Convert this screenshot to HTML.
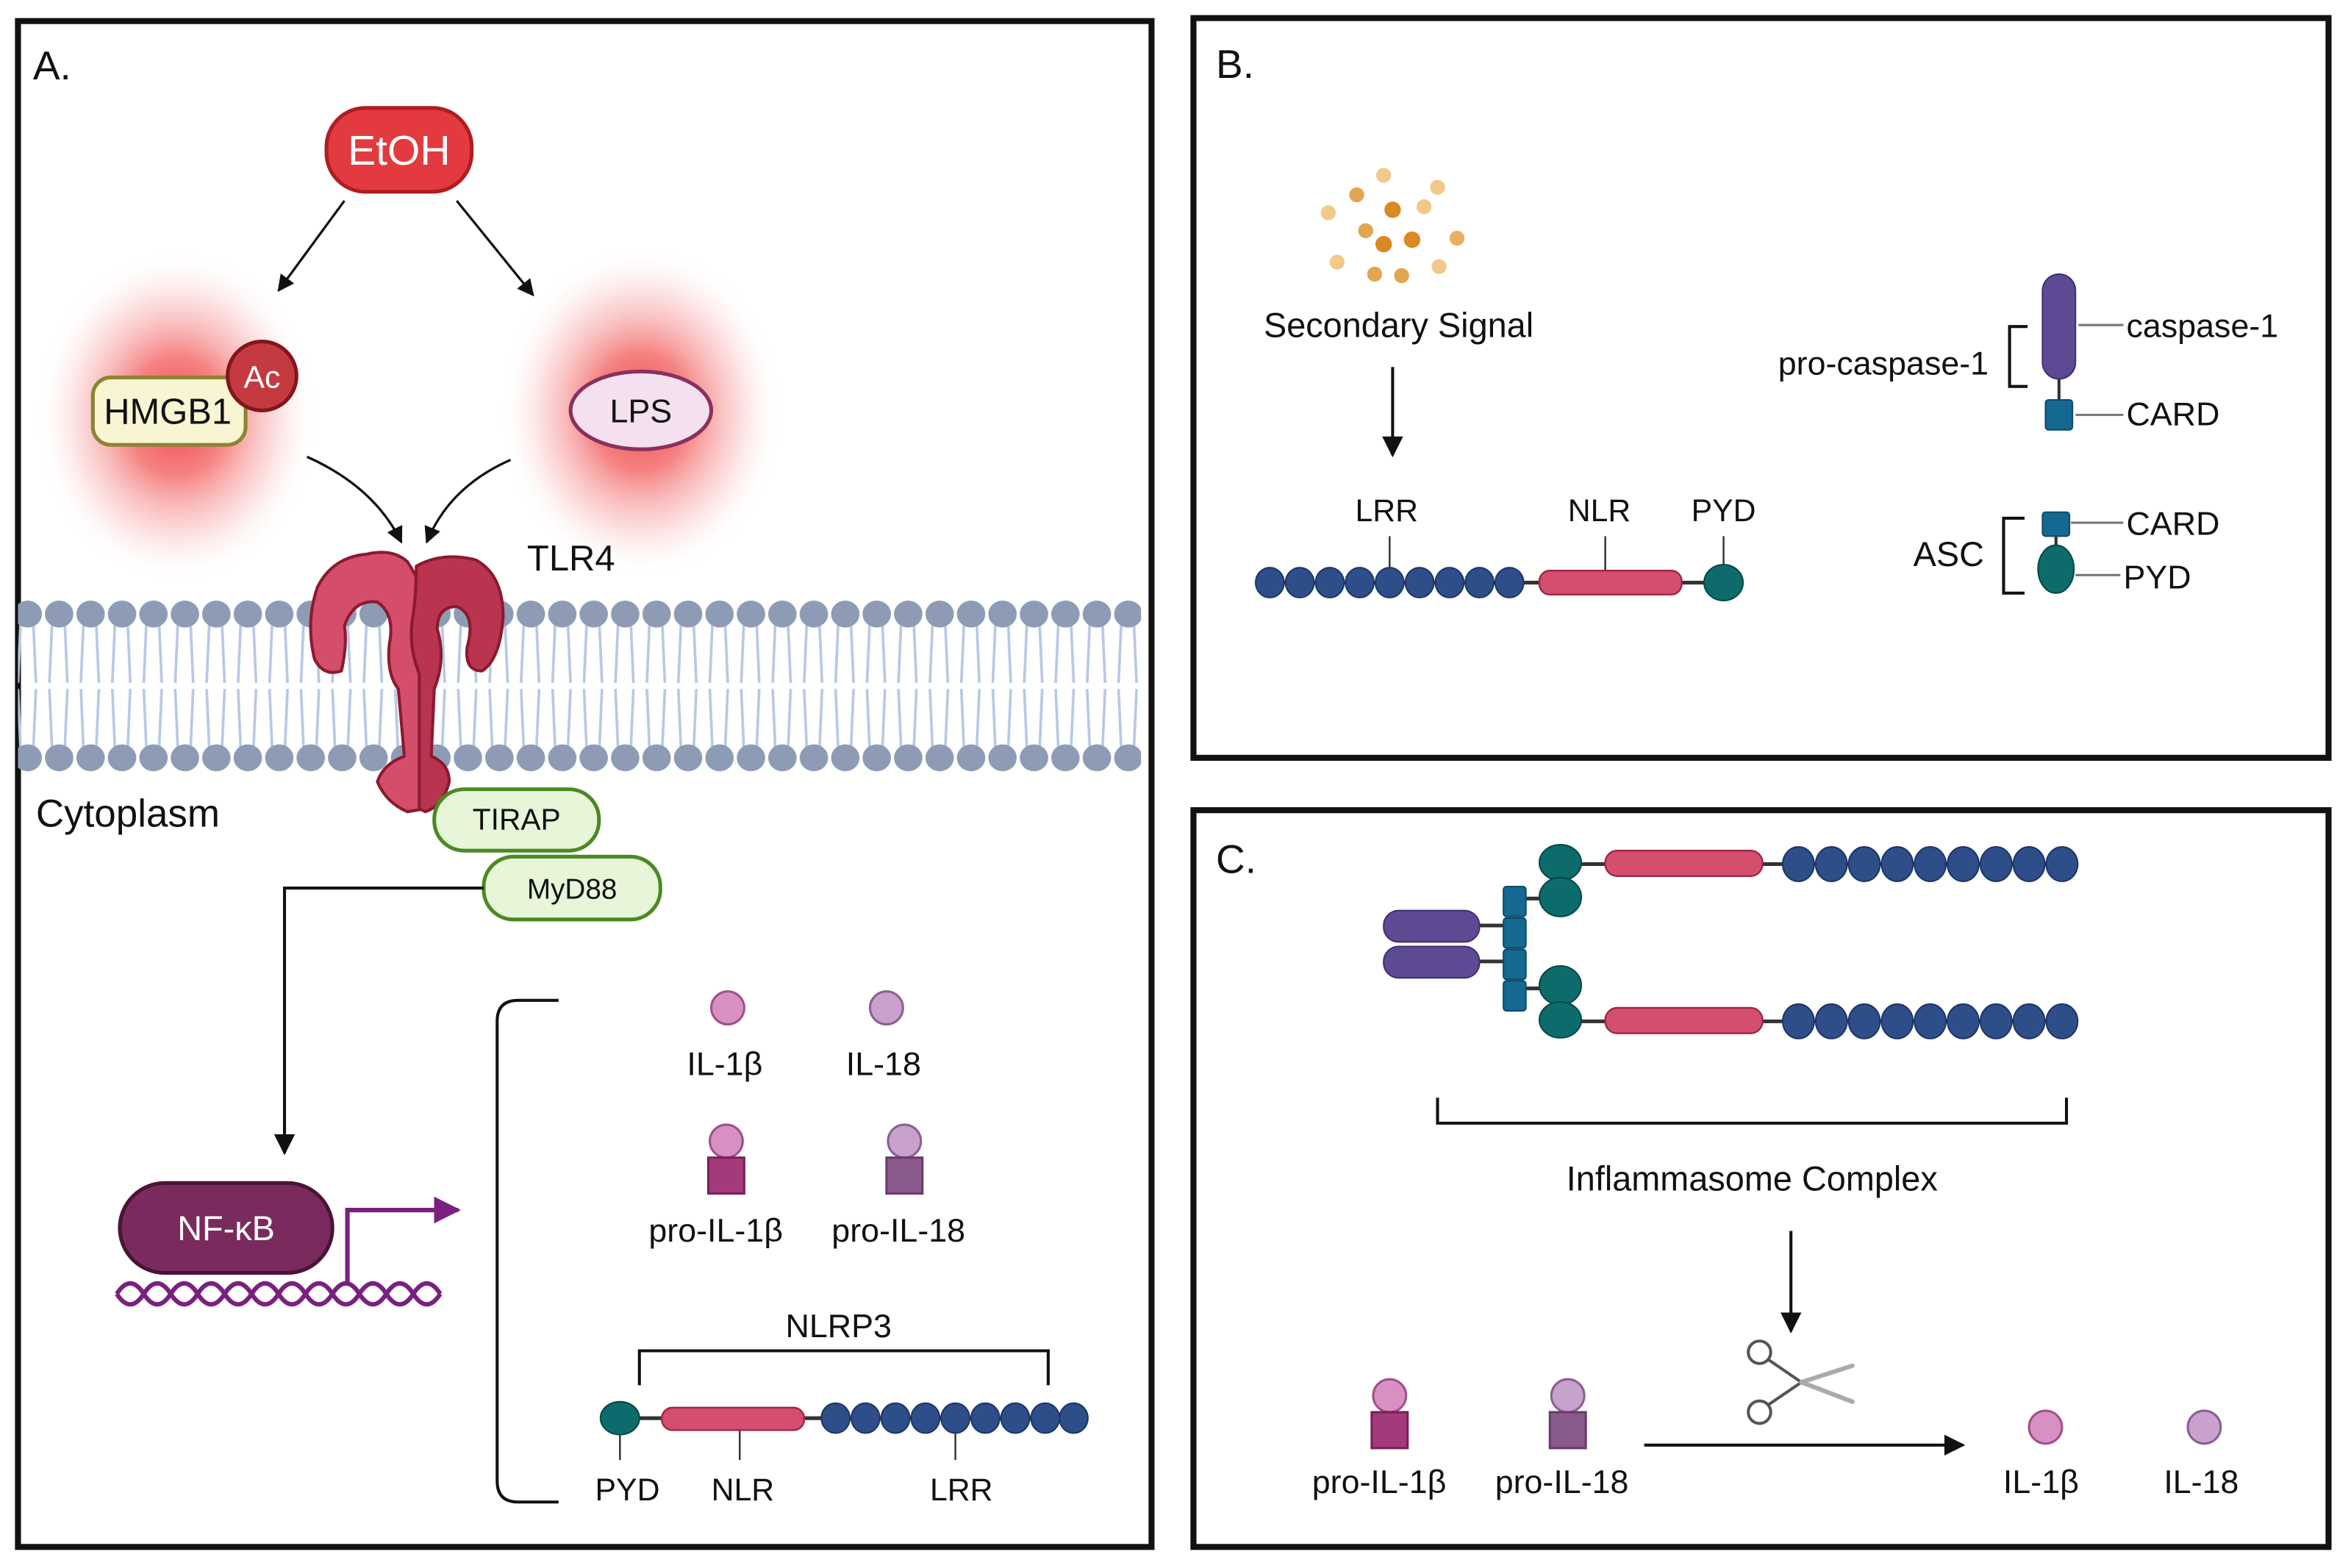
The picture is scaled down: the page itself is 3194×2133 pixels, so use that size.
<!DOCTYPE html>
<html><head><meta charset="utf-8"><style>
html,body{margin:0;padding:0;background:#fff;}
svg{display:block;}
text{font-family:"Liberation Sans",sans-serif;fill:#111;}
</style></head><body>
<svg width="3194" height="2133" viewBox="0 0 1568 1047" xmlns="http://www.w3.org/2000/svg">
<defs>
<radialGradient id="glow" cx="50%" cy="50%" r="50%">
<stop offset="0" stop-color="#f03a3a" stop-opacity="0.95"/>
<stop offset="0.35" stop-color="#f25858" stop-opacity="0.75"/>
<stop offset="0.7" stop-color="#f7a0a0" stop-opacity="0.35"/>
<stop offset="1" stop-color="#ffffff" stop-opacity="0"/>
</radialGradient>
<pattern id="mem" x="8" y="398" width="21" height="120" patternUnits="userSpaceOnUse">
<g stroke="#b8c8e6" stroke-width="1.8" fill="none">
<path d="M6,12 L4,58 M14,12 L16,58 M4,62 L6,108 M16,62 L14,108"/>
</g>
<ellipse cx="10.5" cy="12" rx="9.5" ry="9" fill="#8d9cb4"/>
<ellipse cx="10.5" cy="108" rx="9.5" ry="9" fill="#8d9cb4"/>
</pattern>
<marker id="ah" viewBox="0 0 10 10" refX="9" refY="5" markerWidth="7" markerHeight="7" orient="auto-start-reverse"><path d="M0,0 L10,5 L0,10 z" fill="#111"/></marker>
<marker id="ahp" viewBox="0 0 10 10" refX="9" refY="5" markerWidth="6" markerHeight="6" orient="auto"><path d="M0,0 L10,5 L0,10 z" fill="#7a2080"/></marker>
</defs>

<rect x="12" y="14" width="757" height="1019" fill="none" stroke="#111" stroke-width="4"/>
<rect x="797" y="12" width="758" height="494" fill="none" stroke="#111" stroke-width="4"/>
<rect x="797" y="541" width="758" height="492" fill="none" stroke="#111" stroke-width="4"/>

<!-- ===== Panel A ===== -->
<text x="22" y="53" font-size="27">A.</text>

<ellipse cx="118" cy="278" rx="95" ry="112" fill="url(#glow)"/>
<ellipse cx="428" cy="275" rx="95" ry="112" fill="url(#glow)"/>

<rect x="218" y="72" width="97" height="56" rx="26" fill="#e23a3e" stroke="#b01c22" stroke-width="2.5"/>
<text x="266.5" y="110" font-size="28" text-anchor="middle" style="fill:#fff">EtOH</text>

<line x1="230" y1="134" x2="186" y2="194" stroke="#111" stroke-width="1.6" marker-end="url(#ah)"/>
<line x1="305" y1="134" x2="356" y2="197" stroke="#111" stroke-width="1.6" marker-end="url(#ah)"/>

<rect x="62" y="252" width="102" height="45" rx="12" fill="#f8f5d2" stroke="#8a8530" stroke-width="2.5"/>
<text x="112" y="283" font-size="24" text-anchor="middle">HMGB1</text>
<circle cx="175" cy="251" r="23" fill="#c43a40" stroke="#82161c" stroke-width="2.5"/>
<text x="175" y="259" font-size="21" text-anchor="middle" style="fill:#fff">Ac</text>

<ellipse cx="428" cy="274" rx="47" ry="26" fill="#f4e0ee" stroke="#8a3060" stroke-width="2.5"/>
<text x="428" y="282" font-size="22" text-anchor="middle">LPS</text>

<path d="M205,305 Q250,325 268,362" fill="none" stroke="#111" stroke-width="1.6" marker-end="url(#ah)"/>
<path d="M341,307 Q300,325 285,362" fill="none" stroke="#111" stroke-width="1.6" marker-end="url(#ah)"/>

<rect x="12" y="398" width="750" height="120" fill="url(#mem)"/>

<!-- TLR4 -->
<g stroke="#8a1a30" stroke-width="2" stroke-linejoin="round">
<path d="M272,375 Q262,366 245,370 Q222,372 212,392 Q204,415 210,440 Q216,452 228,448 Q232,430 230,418 Q236,400 252,402 Q264,410 260,430 Q258,450 266,460 L270,505 Q256,510 252,522 Q258,536 272,542 L284,540 L284,450 Q290,430 288,410 Q282,390 272,375 Z" fill="#d44d6a"/>
<path d="M278,378 Q296,368 318,374 Q336,384 336,412 Q334,440 322,448 Q310,448 312,432 Q318,410 305,405 Q292,405 292,420 Q298,440 290,460 L288,505 Q300,510 300,522 Q296,538 284,542 L280,540 L280,450 Q272,430 276,410 Q278,395 278,378 Z" fill="#b8344f"/>
</g>
<text x="352" y="381" font-size="24">TLR4</text>
<text x="24" y="552" font-size="26">Cytoplasm</text>

<rect x="290" y="527" width="110" height="41" rx="20" fill="#e7f5d9" stroke="#4a8a22" stroke-width="2.5"/>
<text x="345" y="554" font-size="20" text-anchor="middle">TIRAP</text>
<rect x="323" y="572" width="118" height="42" rx="20" fill="#e7f5d9" stroke="#4a8a22" stroke-width="2.5"/>
<text x="382" y="600" font-size="19" text-anchor="middle">MyD88</text>

<path d="M323,593 H190 V770" fill="none" stroke="#111" stroke-width="2" marker-end="url(#ah)"/>

<!-- DNA -->
<g fill="none" stroke="#7a2080" stroke-width="3">
<path d="M78,864 q9,-14 18,0 t18,0 t18,0 t18,0 t18,0 t18,0 t18,0 t18,0 t18,0 t18,0 t18,0 t18,0"/>
<path d="M78,864 q9,14 18,0 t18,0 t18,0 t18,0 t18,0 t18,0 t18,0 t18,0 t18,0 t18,0 t18,0 t18,0"/>
</g>
<rect x="80" y="790" width="142" height="60" rx="30" fill="#7a2a5c" stroke="#4a1436" stroke-width="2.5"/>
<text x="151" y="828" font-size="23" text-anchor="middle" style="fill:#fff">NF-κB</text>
<path d="M232,858 V808 H306" fill="none" stroke="#7a2080" stroke-width="3" marker-end="url(#ahp)"/>

<path d="M373,668 H346 Q332,668 332,682 V989 Q332,1003 346,1003 H373" fill="none" stroke="#111" stroke-width="2"/>

<circle cx="486" cy="673" r="11" fill="#d890c2" stroke="#a0508a" stroke-width="1.5"/>
<text x="484" y="718" font-size="22" text-anchor="middle">IL-1β</text>
<circle cx="592" cy="673" r="11" fill="#c8a2cc" stroke="#8a6090" stroke-width="1.5"/>
<text x="590" y="718" font-size="22" text-anchor="middle">IL-18</text>

<circle cx="485" cy="762" r="11" fill="#d890c2" stroke="#a0508a" stroke-width="1.5"/>
<rect x="473" y="773" width="24" height="24" fill="#a23a7c" stroke="#7a2058" stroke-width="1.5"/>
<text x="478" y="829" font-size="22" text-anchor="middle">pro-IL-1β</text>
<circle cx="604" cy="762" r="11" fill="#c8a2cc" stroke="#8a6090" stroke-width="1.5"/>
<rect x="592" y="773" width="24" height="24" fill="#8a5a8c" stroke="#6a3a6c" stroke-width="1.5"/>
<text x="600" y="829" font-size="22" text-anchor="middle">pro-IL-18</text>

<text x="560" y="893" font-size="22" text-anchor="middle">NLRP3</text>
<path d="M427,925 V902 H700 V925" fill="none" stroke="#111" stroke-width="2"/>

<g stroke="#333" stroke-width="1.2">
<line x1="414" y1="947" x2="414" y2="975"/><line x1="494" y1="947" x2="494" y2="975"/><line x1="638" y1="947" x2="638" y2="975"/>
</g>
<line x1="414" y1="947" x2="720" y2="947" stroke="#333" stroke-width="2.5"/>
<ellipse cx="414" cy="947" rx="13" ry="11" fill="#0d6b6b" stroke="#064848" stroke-width="1"/>
<rect x="442" y="940" width="95" height="15" rx="7" fill="#d44f6e" stroke="#a02848" stroke-width="1.2"/>
<g fill="#2e4e8a" stroke="#1d3566" stroke-width="1">
<ellipse cx="558" cy="947" rx="9.5" ry="10"/><ellipse cx="578" cy="947" rx="9.5" ry="10"/><ellipse cx="598" cy="947" rx="9.5" ry="10"/><ellipse cx="618" cy="947" rx="9.5" ry="10"/><ellipse cx="638" cy="947" rx="9.5" ry="10"/><ellipse cx="658" cy="947" rx="9.5" ry="10"/><ellipse cx="678" cy="947" rx="9.5" ry="10"/><ellipse cx="698" cy="947" rx="9.5" ry="10"/><ellipse cx="717" cy="947" rx="9.5" ry="10"/>
</g>
<text x="419" y="1002" font-size="21" text-anchor="middle">PYD</text>
<text x="496" y="1002" font-size="21" text-anchor="middle">NLR</text>
<text x="642" y="1002" font-size="21" text-anchor="middle">LRR</text>

<!-- ===== Panel B ===== -->
<text x="812" y="52" font-size="27">B.</text>
<g>
<circle cx="924" cy="117" r="5" fill="#f2c98a"/>
<circle cx="960" cy="125" r="5" fill="#f2c98a"/>
<circle cx="906" cy="130" r="5" fill="#e2a650"/>
<circle cx="887" cy="142" r="5" fill="#f2c98a"/>
<circle cx="930" cy="140" r="5.5" fill="#d98a24"/>
<circle cx="951" cy="138" r="5" fill="#f2c98a"/>
<circle cx="912" cy="154" r="5" fill="#e2a650"/>
<circle cx="924" cy="163" r="5.5" fill="#d98a24"/>
<circle cx="943" cy="160" r="5.5" fill="#d98a24"/>
<circle cx="973" cy="159" r="5" fill="#e8b060"/>
<circle cx="893" cy="175" r="5" fill="#f2c98a"/>
<circle cx="918" cy="183" r="5" fill="#e2a650"/>
<circle cx="936" cy="184" r="5" fill="#e2a650"/>
<circle cx="961" cy="178" r="5" fill="#f2c98a"/>
</g>
<text x="934" y="225" font-size="23" text-anchor="middle">Secondary Signal</text>
<line x1="930" y1="245" x2="930" y2="304" stroke="#111" stroke-width="2" marker-end="url(#ah)"/>

<g stroke="#333" stroke-width="1.2">
<line x1="928" y1="358" x2="928" y2="389"/><line x1="1072" y1="358" x2="1072" y2="389"/><line x1="1151" y1="358" x2="1151" y2="389"/>
</g>
<line x1="848" y1="389" x2="1151" y2="389" stroke="#333" stroke-width="2.5"/>
<g fill="#2e4e8a" stroke="#1d3566" stroke-width="1">
<ellipse cx="848" cy="389" rx="9.5" ry="10"/><ellipse cx="868" cy="389" rx="9.5" ry="10"/><ellipse cx="888" cy="389" rx="9.5" ry="10"/><ellipse cx="908" cy="389" rx="9.5" ry="10"/><ellipse cx="928" cy="389" rx="9.5" ry="10"/><ellipse cx="948" cy="389" rx="9.5" ry="10"/><ellipse cx="968" cy="389" rx="9.5" ry="10"/><ellipse cx="988" cy="389" rx="9.5" ry="10"/><ellipse cx="1008" cy="389" rx="9.5" ry="10"/>
</g>
<rect x="1028" y="381" width="95" height="16" rx="7" fill="#d44f6e" stroke="#a02848" stroke-width="1.2"/>
<ellipse cx="1151" cy="389" rx="13" ry="12" fill="#0d6b6b" stroke="#064848" stroke-width="1"/>
<text x="926" y="348" font-size="21" text-anchor="middle">LRR</text>
<text x="1068" y="348" font-size="21" text-anchor="middle">NLR</text>
<text x="1151" y="348" font-size="21" text-anchor="middle">PYD</text>

<line x1="1375" y1="250" x2="1375" y2="270" stroke="#333" stroke-width="2"/>
<rect x="1364" y="183" width="22" height="70" rx="11" fill="#5d4a92" stroke="#3e2f70" stroke-width="1"/>
<rect x="1366" y="267" width="18" height="20" rx="2" fill="#156892" stroke="#0c4a6a" stroke-width="1"/>
<g stroke="#777" stroke-width="1.5">
<line x1="1388" y1="217" x2="1418" y2="217"/><line x1="1386" y1="277" x2="1418" y2="277"/>
<line x1="1383" y1="349" x2="1418" y2="349"/><line x1="1386" y1="384" x2="1416" y2="384"/>
</g>
<text x="1420" y="225" font-size="22">caspase-1</text>
<text x="1420" y="284" font-size="22">CARD</text>
<path d="M1354,218 H1342 V258 H1354" fill="none" stroke="#111" stroke-width="2"/>
<text x="1328" y="250" font-size="22" text-anchor="end">pro-caspase-1</text>

<line x1="1373" y1="355" x2="1373" y2="368" stroke="#333" stroke-width="2"/>
<rect x="1364" y="342" width="18" height="16" rx="2" fill="#156892" stroke="#0c4a6a" stroke-width="1"/>
<ellipse cx="1373" cy="380" rx="12" ry="16" fill="#0d6b6b" stroke="#064848" stroke-width="1"/>
<path d="M1352,346 H1338 V396 H1352" fill="none" stroke="#111" stroke-width="2"/>
<text x="1325" y="378" font-size="23" text-anchor="end">ASC</text>
<text x="1420" y="357" font-size="22">CARD</text>
<text x="1418" y="393" font-size="22">PYD</text>

<!-- ===== Panel C ===== -->
<text x="812" y="583" font-size="27">C.</text>
<g stroke="#333" stroke-width="2.5">
<line x1="1042" y1="577" x2="1377" y2="577"/>
<line x1="1042" y1="682" x2="1377" y2="682"/>
<line x1="988" y1="618" x2="1004" y2="618"/><line x1="988" y1="642" x2="1004" y2="642"/>
<line x1="1019" y1="600" x2="1030" y2="600"/><line x1="1019" y1="660" x2="1030" y2="660"/>
</g>
<rect x="924" y="608" width="64" height="21" rx="10" fill="#5d4a92" stroke="#3e2f70" stroke-width="1"/>
<rect x="924" y="632" width="64" height="21" rx="10" fill="#5d4a92" stroke="#3e2f70" stroke-width="1"/>
<g fill="#156892" stroke="#0c4a6a" stroke-width="1">
<rect x="1004" y="592" width="15" height="20" rx="2"/><rect x="1004" y="613" width="15" height="20" rx="2"/>
<rect x="1004" y="634" width="15" height="20" rx="2"/><rect x="1004" y="655" width="15" height="20" rx="2"/>
</g>
<g fill="#0d6b6b" stroke="#064848" stroke-width="1">
<ellipse cx="1042" cy="576" rx="14" ry="12"/><ellipse cx="1042" cy="599" rx="14" ry="13"/>
<ellipse cx="1042" cy="658" rx="14" ry="13"/><ellipse cx="1042" cy="681" rx="14" ry="12"/>
</g>
<rect x="1072" y="568" width="105" height="17" rx="8" fill="#d44f6e" stroke="#a02848" stroke-width="1.2"/>
<rect x="1072" y="673" width="105" height="17" rx="8" fill="#d44f6e" stroke="#a02848" stroke-width="1.2"/>
<g fill="#2e4e8a" stroke="#1d3566" stroke-width="1">
<ellipse cx="1201" cy="577" rx="10.5" ry="11.5"/><ellipse cx="1223" cy="577" rx="10.5" ry="11.5"/><ellipse cx="1245" cy="577" rx="10.5" ry="11.5"/><ellipse cx="1267" cy="577" rx="10.5" ry="11.5"/><ellipse cx="1289" cy="577" rx="10.5" ry="11.5"/><ellipse cx="1311" cy="577" rx="10.5" ry="11.5"/><ellipse cx="1333" cy="577" rx="10.5" ry="11.5"/><ellipse cx="1355" cy="577" rx="10.5" ry="11.5"/><ellipse cx="1377" cy="577" rx="10.5" ry="11.5"/>
<ellipse cx="1201" cy="682" rx="10.5" ry="11.5"/><ellipse cx="1223" cy="682" rx="10.5" ry="11.5"/><ellipse cx="1245" cy="682" rx="10.5" ry="11.5"/><ellipse cx="1267" cy="682" rx="10.5" ry="11.5"/><ellipse cx="1289" cy="682" rx="10.5" ry="11.5"/><ellipse cx="1311" cy="682" rx="10.5" ry="11.5"/><ellipse cx="1333" cy="682" rx="10.5" ry="11.5"/><ellipse cx="1355" cy="682" rx="10.5" ry="11.5"/><ellipse cx="1377" cy="682" rx="10.5" ry="11.5"/>
</g>

<path d="M960,733 V750 H1380 V733" fill="none" stroke="#111" stroke-width="2"/>
<text x="1170" y="795" font-size="23" text-anchor="middle">Inflammasome Complex</text>
<line x1="1196" y1="822" x2="1196" y2="889" stroke="#111" stroke-width="2" marker-end="url(#ah)"/>

<g fill="none" stroke="#555" stroke-width="2">
<circle cx="1175" cy="903" r="7.5"/><circle cx="1175" cy="943" r="7.5"/>
<line x1="1181" y1="908" x2="1203" y2="923"/><line x1="1181" y1="938" x2="1203" y2="923"/>
</g>
<g stroke="#aaa" stroke-width="3" stroke-linecap="round">
<line x1="1203" y1="923" x2="1237" y2="912"/><line x1="1203" y1="923" x2="1237" y2="936"/>
</g>

<circle cx="928" cy="932" r="11" fill="#d890c2" stroke="#a0508a" stroke-width="1.5"/>
<rect x="916" y="943" width="24" height="24" fill="#a23a7c" stroke="#7a2058" stroke-width="1.5"/>
<text x="921" y="997" font-size="22" text-anchor="middle">pro-IL-1β</text>
<circle cx="1047" cy="932" r="11" fill="#c8a2cc" stroke="#8a6090" stroke-width="1.5"/>
<rect x="1035" y="943" width="24" height="24" fill="#8a5a8c" stroke="#6a3a6c" stroke-width="1.5"/>
<text x="1043" y="997" font-size="22" text-anchor="middle">pro-IL-18</text>

<line x1="1098" y1="965" x2="1311" y2="965" stroke="#111" stroke-width="2" marker-end="url(#ah)"/>

<circle cx="1366" cy="953" r="11" fill="#d890c2" stroke="#a0508a" stroke-width="1.5"/>
<text x="1363" y="997" font-size="22" text-anchor="middle">IL-1β</text>
<circle cx="1472" cy="953" r="11" fill="#c8a2cc" stroke="#8a6090" stroke-width="1.5"/>
<text x="1470" y="997" font-size="22" text-anchor="middle">IL-18</text>
</svg>
</body></html>
